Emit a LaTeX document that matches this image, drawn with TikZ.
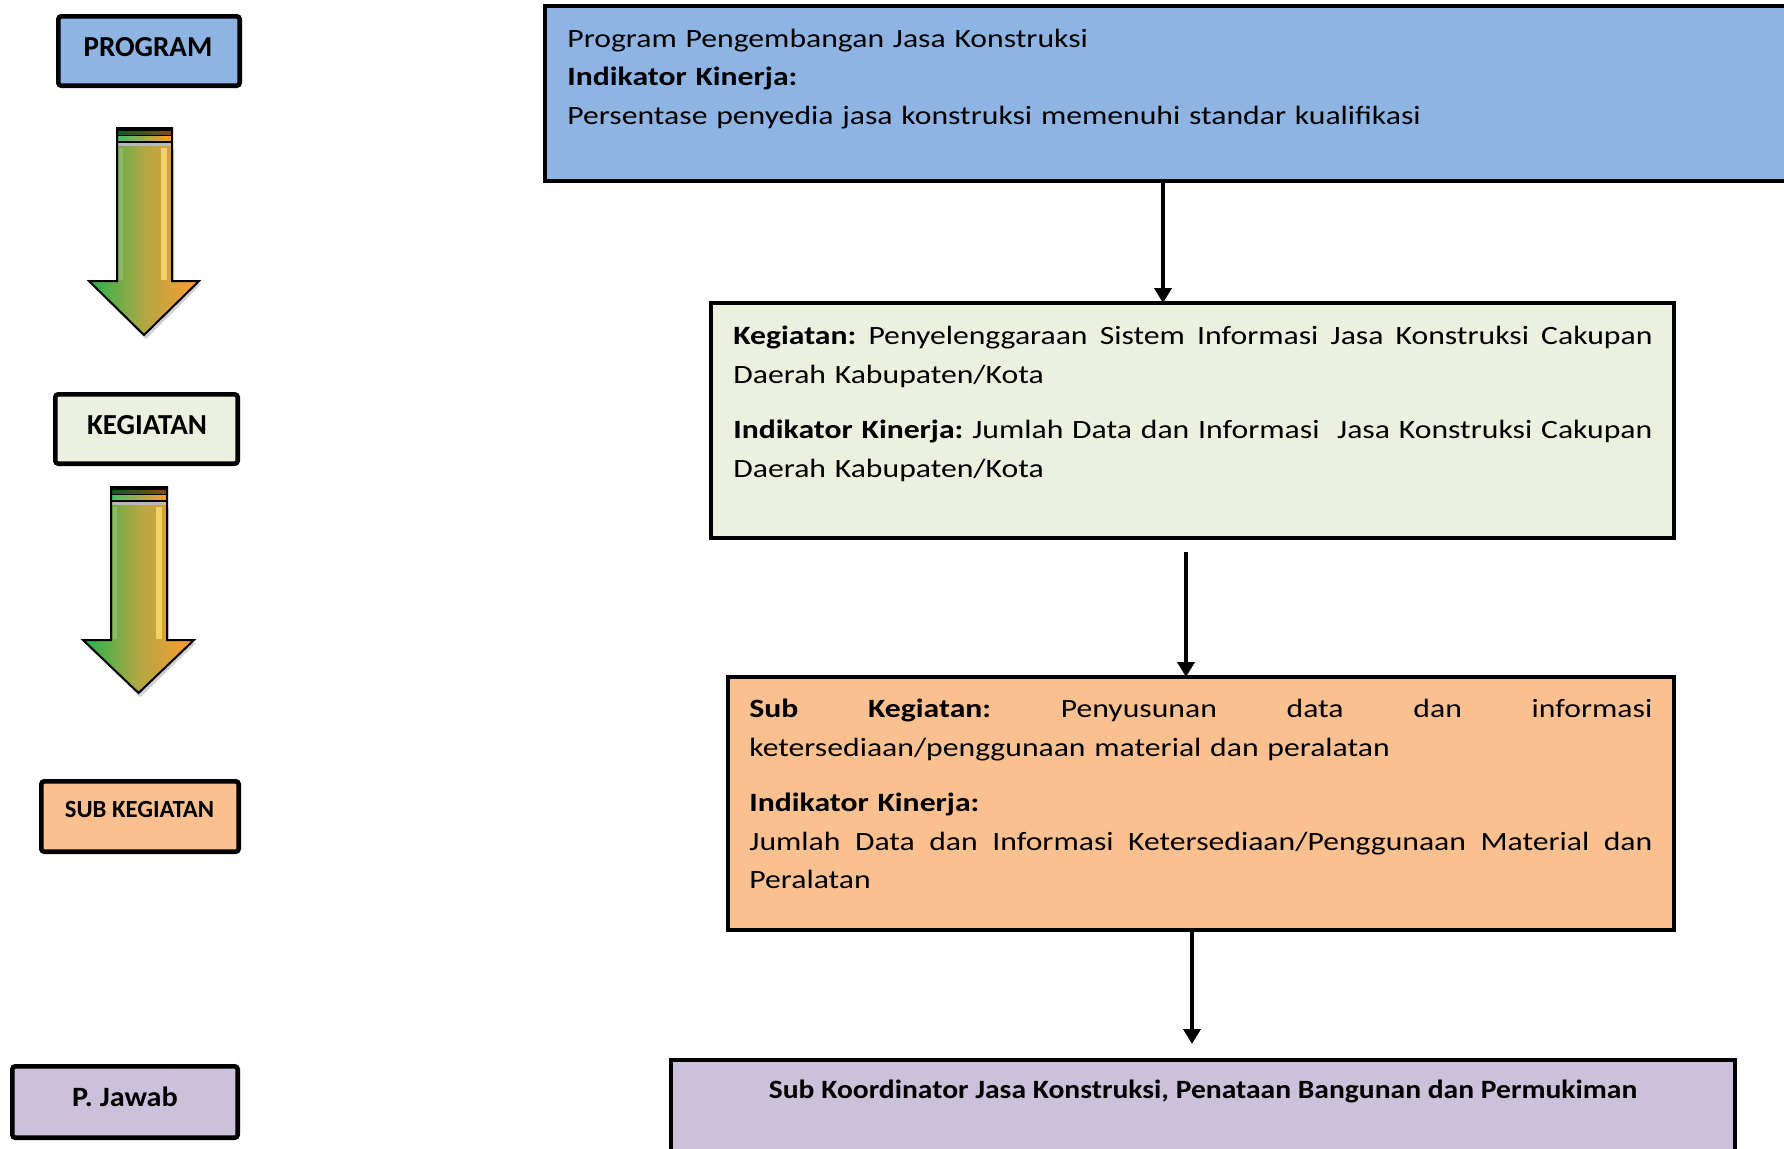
\documentclass[tikz,border=0pt]{standalone}
\usepackage{fontspec}
\setmainfont{Carlito}
\newfontfamily\bodyfont[FakeStretch=1.2]{Carlito}
\newfontfamily\kofont[FakeStretch=1.12]{Carlito}
\newfontfamily\pjfont[FakeStretch=1.08]{Carlito}
\usetikzlibrary{arrows.meta}
\definecolor{pblue}{HTML}{8EB4E3}
\definecolor{kgreen}{HTML}{EBF1DE}
\definecolor{sorange}{HTML}{FAC090}
\definecolor{jpurple}{HTML}{CCC1DA}
\definecolor{agreen}{HTML}{22B24C}
\definecolor{aolive}{HTML}{B2A744}
\definecolor{aorange}{HTML}{FF9A2E}
\definecolor{ahigh}{HTML}{FFE27A}
\newcommand{\jline}[2]{\leavevmode\hbox to #1{\spaceskip=0.22em plus 1fil\relax #2}}
\newcommand{\gradarrow}[7]{%
  \fill[black,opacity=0.18] (#1+2,#3+21) -- (#1+2,#4+3) -- (#5+2,#4+3) -- ({(#5+#6)/2+2},#7+4) -- (#6+2,#4+3) -- (#2+2,#4+3) -- (#2+2,#3+21) -- cycle;
  \shade[garrow] (#1,#3+18) -- (#1,#4) -- (#5,#4) -- ({(#5+#6)/2},#7) -- (#6,#4) -- (#2,#4) -- (#2,#3+18) -- cycle;
  \fill[ahigh,opacity=0.75] (#2-11,#3+20) rectangle (#2-5,#4-1);
  \fill[white,opacity=0.18] (#1+2,#3+20) rectangle (#1+6,#4-1);
  \fill[black] (#1,#3) rectangle (#2,#3+18);
  \fill[left color=agreen!50!black, right color=aorange!50!black] (#1+1,#3+3.5) rectangle (#2-1,#3+6.5);
  \fill[left color=agreen!85, right color=aorange] (#1+1,#3+8.5) rectangle (#2-1,#3+12.5);
  \fill[gray!55] (#1+1,#3+15) rectangle (#2-1,#3+17.5);
  \draw[line width=1pt,line join=miter] (#1,#3) -- (#1,#4) -- (#5,#4) -- ({(#5+#6)/2},#7) -- (#6,#4) -- (#2,#4) -- (#2,#3) -- cycle;
}
\begin{document}
\begin{tikzpicture}[x=0.5pt,y=-0.5pt,
  lab/.style={draw=black, line width=2.3pt, rounded corners=1.5pt, inner sep=0pt, outer sep=0pt, anchor=north west},
  box/.style={draw=black, line width=2pt, inner sep=0pt, outer sep=0pt, anchor=north west},
  labtxt/.style={font=\fontsize{14.5}{17}\selectfont\bfseries, anchor=base, inner sep=0pt},
  body/.style={font=\bodyfont\fontsize{13.2}{19.3}\selectfont\frenchspacing, anchor=base west, inner sep=0pt},
  conn/.style={line width=2pt, -{Triangle[width=8.5pt,length=7.5pt]}},
  garrow/.style={left color=agreen, right color=aorange, middle color=aolive}]
\useasboundingbox (0,0) rectangle (1784,1148);
\clip (0,0) rectangle (1784,1148);

% ---- left column labels ----
\node[lab, fill=pblue, minimum width=90.7pt, minimum height=34.7pt] (pgL) at (58.3,16.3) {};
\node[labtxt] (pgT) at (148,56) {PROGRAM};
\node[lab, fill=kgreen, minimum width=91.2pt, minimum height=34.7pt] (kgL) at (55.3,394.3) {};
\node[labtxt] (kgT) at (147,434) {KEGIATAN};
\node[lab, fill=sorange, minimum width=98.7pt, minimum height=35.2pt] (skL) at (41.3,781.3) {};
\node[labtxt, font=\fontsize{12.35}{14}\selectfont\bfseries] (skT) at (139.5,817) {SUB KEGIATAN};
\node[lab, fill=jpurple, minimum width=112.7pt, minimum height=35.7pt] (pjL) at (12.3,1066.3) {};
\node[labtxt, font=\pjfont\fontsize{14}{16}\selectfont\bfseries] (pjT) at (125,1106.5) {P. Jawab};

% ---- gradient arrows ----
\gradarrow{117}{172}{128}{281}{89}{199}{335}
\gradarrow{111}{167}{487}{640}{83}{194}{693}

% ---- right column boxes ----
\node[box, fill=pblue, minimum width=650pt, minimum height=87.5pt] (pg) at (545,6) {};
\node[body, text width=600pt] (pgX) at (567,47) {Program Pengembangan Jasa Konstruksi\\
\textbf{Indikator Kinerja:}\\
Persentase penyedia jasa konstruksi memenuhi standar kualifikasi};

\node[box, fill=kgreen, minimum width=481.5pt, minimum height=117.5pt] (kg) at (711,303) {};
\node[body, text width=459.5pt] (kgX) at (733,344.5) {\jline{459.5pt}{\textbf{Kegiatan:} Penyelenggaraan Sistem Informasi Jasa Konstruksi Cakupan}\\
Daerah Kabupaten/Kota\\[8.5pt]
\jline{459.5pt}{\textbf{Indikator Kinerja:} Jumlah Data dan Informasi\space\space Jasa Konstruksi Cakupan}\\
Daerah Kabupaten/Kota};

\node[box, fill=sorange, minimum width=473pt, minimum height=126.5pt] (sk) at (728,677) {};
\node[body, text width=451.5pt] (skX) at (749,717.5) {\jline{451.5pt}{\textbf{Sub Kegiatan:} Penyusunan data dan informasi}\\
ketersediaan/penggunaan material dan peralatan\\[8.5pt]
\textbf{Indikator Kinerja:}\\
\jline{451.5pt}{Jumlah Data dan Informasi Ketersediaan/Penggunaan Material dan}\\
Peralatan};

\node[box, fill=jpurple, minimum width=532pt, minimum height=100pt] (sko) at (671,1060) {};
\node[font=\kofont\fontsize{13.2}{19.3}\selectfont\bfseries, anchor=base, inner sep=0pt] (skoX) at (1203,1098.5) {Sub Koordinator Jasa Konstruksi, Penataan Bangunan dan Permukiman};

% ---- connectors ----
\coordinate (a2s) at (1186,552);
\coordinate (a3e) at (1192,1044);
\draw[conn] (1163,0 |- pg.south) -- (1163,0 |- kg.north);
\draw[conn] (a2s) -- (a2s |- sk.north);
\draw[conn] (a3e |- sk.south) -- (a3e);
\end{tikzpicture}
\end{document}
